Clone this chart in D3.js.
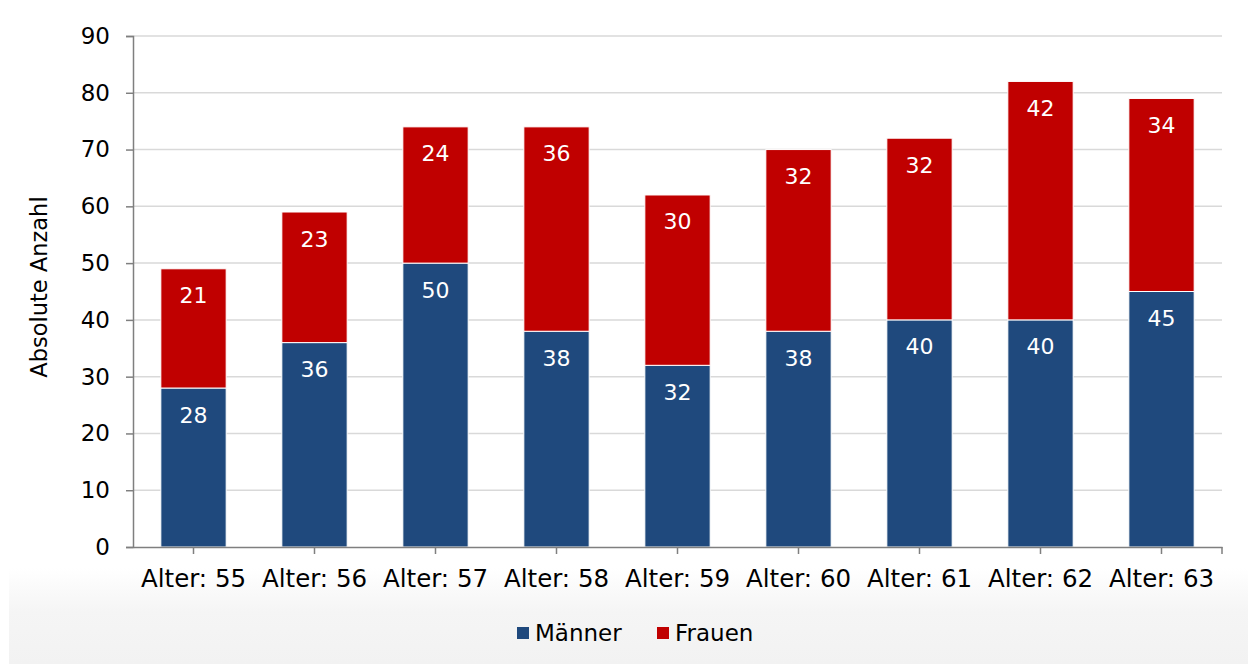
<!DOCTYPE html>
<html>
<head>
<meta charset="utf-8">
<script src="https://cdn.jsdelivr.net/npm/d3@7"></script>
<style>
  html, body { margin: 0; padding: 0; background: #fff; }
  svg { display: block; }
  text { font-family: Verdana, "DejaVu Sans", sans-serif; }
</style>
</head>
<body>
<svg id="chart" width="1248" height="664"></svg>
<script>
// Age groups and counts per gender
const categories = ["Alter: 55", "Alter: 56", "Alter: 57", "Alter: 58", "Alter: 59", "Alter: 60", "Alter: 61", "Alter: 62", "Alter: 63"];
const maenner = [28, 36, 50, 38, 32, 38, 40, 40, 45];
const frauen  = [21, 23, 24, 36, 30, 32, 32, 42, 34];
const seriesNames = ["Männer", "Frauen"];
const seriesColors = ["#1F497D", "#C00000"];
const yTicks = [0, 10, 20, 30, 40, 50, 60, 70, 80, 90];

const FONT = 'Verdana, "DejaVu Sans", sans-serif';
const svg = d3.select("#chart");
const W = 1248, H = 664;
const m = { left: 133, right: 26, top: 36, bottom: 117 };
const plotW = W - m.left - m.right;
const plotH = H - m.top - m.bottom;

// soft grey fade behind the axis labels and legend
const defs = svg.append("defs");
const grad = defs.append("linearGradient").attr("id", "bgfade")
  .attr("x1", 0).attr("y1", 0).attr("x2", 0).attr("y2", 1);
grad.append("stop").attr("offset", "0%").attr("stop-color", "#ffffff");
grad.append("stop").attr("offset", "45%").attr("stop-color", "#f5f5f5");
grad.append("stop").attr("offset", "100%").attr("stop-color", "#f2f2f2");
svg.append("rect").attr("x", 9).attr("y", 568).attr("width", W - 9).attr("height", H - 568)
  .attr("fill", "url(#bgfade)");

const x = d3.scaleBand().domain(categories).range([m.left, m.left + plotW]).paddingInner(0.46).paddingOuter(0.23);
const y = d3.scaleLinear().domain([0, 90]).range([m.top + plotH, m.top]);

// horizontal gridlines
svg.append("g").selectAll("line").data(yTicks.filter(d => d > 0)).join("line")
  .attr("x1", m.left).attr("x2", m.left + plotW)
  .attr("y1", d => y(d)).attr("y2", d => y(d))
  .attr("stroke", "#d9d9d9").attr("stroke-width", 1.5);

// stacked bars
const rows = categories.map((c, i) => ({ cat: c, Männer: maenner[i], Frauen: frauen[i] }));
const stacked = d3.stack().keys(seriesNames)(rows);

const layers = svg.append("g").selectAll("g").data(stacked).join("g")
  .attr("fill", (d, i) => seriesColors[i]);

layers.selectAll("rect").data(d => d).join("rect")
  .attr("x", d => x(d.data.cat))
  .attr("width", x.bandwidth())
  .attr("y", d => y(d[1]))
  .attr("height", d => y(d[0]) - y(d[1]))
  .attr("stroke", "#ffffff").attr("stroke-width", 1);

// value labels inside the top of each segment
layers.selectAll("text").data(d => d).join("text")
  .attr("x", d => x(d.data.cat) + x.bandwidth() / 2)
  .attr("y", d => y(d[1]) + 27)
  .attr("text-anchor", "middle")
  .attr("dominant-baseline", "central")
  .attr("fill", "#ffffff")
  .attr("font-size", 22)
  .text(d => d[1] - d[0]);

// y axis
const yAxis = d3.axisLeft(y).tickValues(yTicks).tickSize(7).tickPadding(16);
const gy = svg.append("g").attr("transform", `translate(${m.left},0)`).call(yAxis);
gy.select(".domain").attr("stroke", "#7f7f7f").attr("stroke-width", 1.5);
gy.selectAll(".tick line").attr("stroke", "#7f7f7f").attr("stroke-width", 1.5);
gy.selectAll(".tick text").attr("font-size", 23).attr("fill", "#000").style("font-family", FONT);

// x axis with ticks at category centres
const xAxis = d3.axisBottom(x).tickSize(7).tickPadding(16).tickSizeOuter(0);
const gx = svg.append("g").attr("transform", `translate(0,${m.top + plotH})`).call(xAxis);
gx.select(".domain").attr("stroke", "#7f7f7f").attr("stroke-width", 1.5);
gx.selectAll(".tick line").attr("stroke", "#7f7f7f").attr("stroke-width", 1.5);
gx.selectAll(".tick text").attr("font-size", 24.5).attr("fill", "#000").style("font-family", FONT);
gx.append("line").attr("x1", m.left + plotW).attr("x2", m.left + plotW)
  .attr("y1", 0).attr("y2", 7).attr("stroke", "#7f7f7f").attr("stroke-width", 1.5);

// y axis title
svg.append("text")
  .attr("transform", "translate(47,287) rotate(-90)")
  .attr("text-anchor", "middle")
  .attr("font-size", 22.5)
  .attr("fill", "#000")
  .text("Absolute Anzahl");

// legend
const legend = svg.append("g").attr("transform", "translate(517,633)");
const legendX = [0, 140];
seriesNames.forEach((name, i) => {
  const g = legend.append("g").attr("transform", `translate(${legendX[i]},0)`);
  g.append("rect").attr("x", 0).attr("y", -6).attr("width", 12).attr("height", 12)
    .attr("fill", seriesColors[i]);
  g.append("text").attr("x", 18).attr("y", 0).attr("dominant-baseline", "central")
    .attr("font-size", 23).attr("fill", "#000").text(name);
});
</script>
</body>
</html>
